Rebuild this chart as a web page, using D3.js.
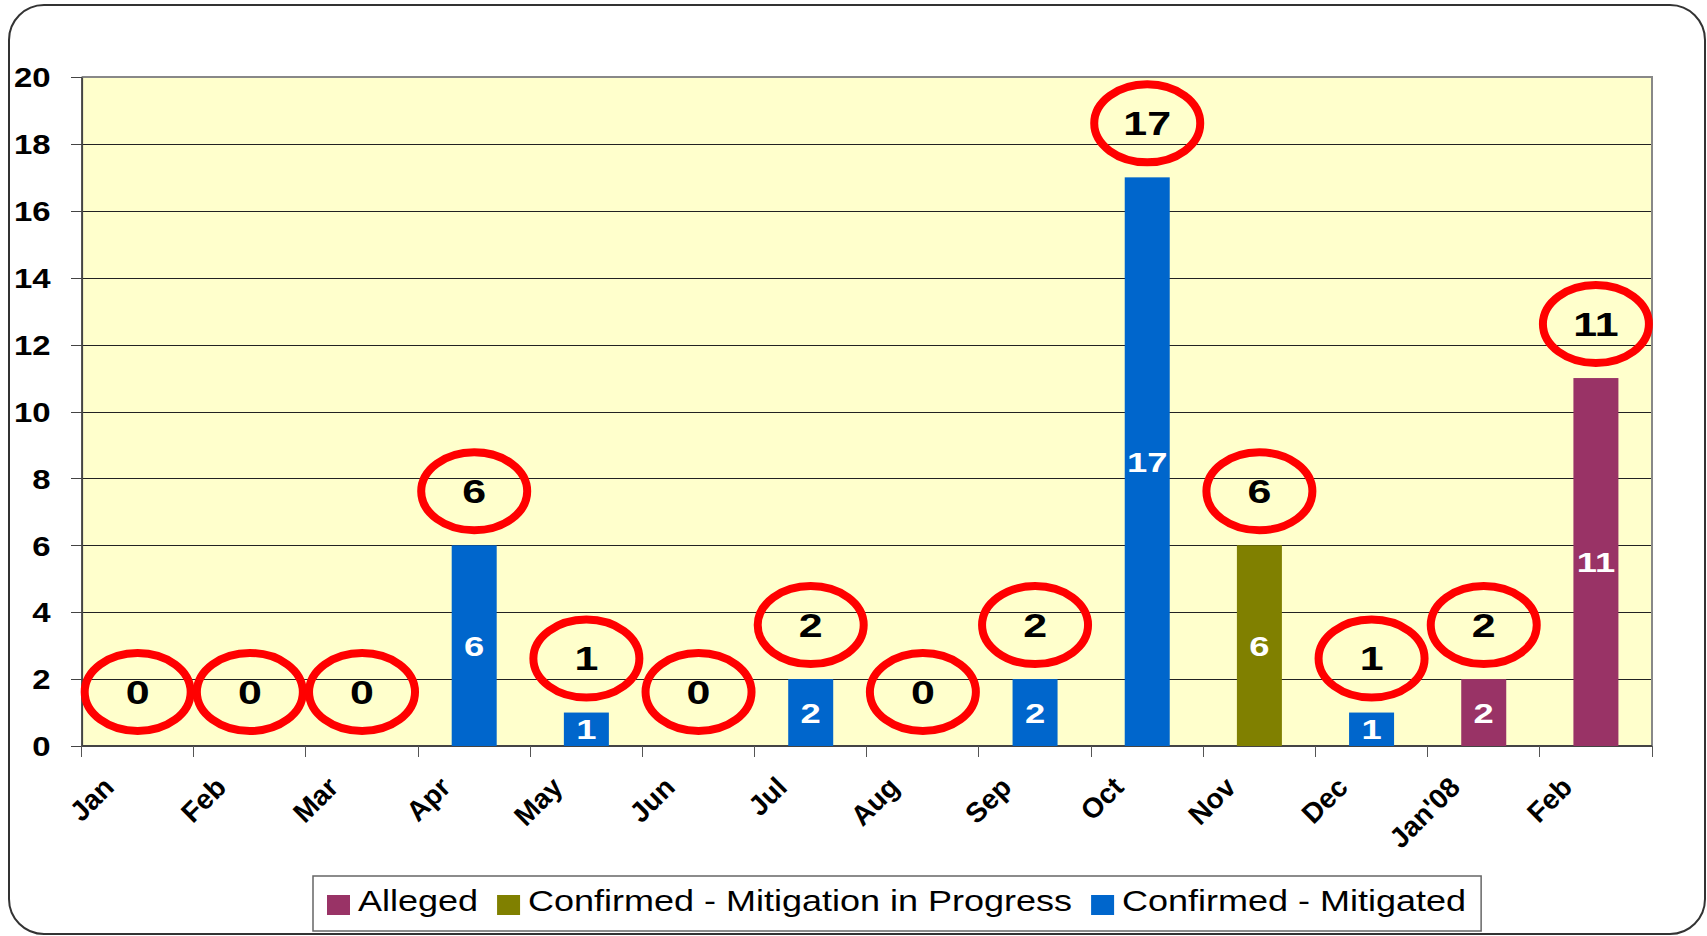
<!DOCTYPE html>
<html>
<head>
<meta charset="utf-8">
<script src="https://cdn.jsdelivr.net/npm/d3@7"></script>
<style>
  body { margin: 0; background: #fff; }
  svg text { font-family: "Liberation Sans", Arial, sans-serif; }
</style>
</head>
<body>
<div id="chart"></div>
<script>
// values
const months = ["Jan", "Feb", "Mar", "Apr", "May", "Jun", "Jul", "Aug", "Sep", "Oct", "Nov", "Dec", "Jan'08", "Feb"];
const alleged = [0, 0, 0, 0, 0, 0, 0, 0, 0, 0, 0, 0, 2, 11];
const inProgress = [0, 0, 0, 0, 0, 0, 0, 0, 0, 0, 6, 0, 0, 0];
const mitigated = [0, 0, 0, 6, 1, 0, 2, 0, 2, 17, 0, 1, 0, 0];
const seriesNames = ["Alleged", "Confirmed - Mitigation in Progress", "Confirmed - Mitigated"];
const yTicks = [0, 2, 4, 6, 8, 10, 12, 14, 16, 18, 20];

const keys = ["alleged", "inProgress", "mitigated"];
const colors = {alleged: "#993366", inProgress: "#808000", mitigated: "#0066CC"};

const W = 1707, H = 936;
const margin = {top: 77, right: 55, bottom: 190, left: 81.6};
const width = W - margin.left - margin.right;
const height = H - margin.top - margin.bottom;
const stretch = 1.3; // the text in the original is drawn wide

// "Feb" comes twice, so the band scale works on the index
const rows = months.map((m, i) => ({
  idx: i, month: m, alleged: alleged[i], inProgress: inProgress[i], mitigated: mitigated[i]
}));
const totals = rows.map(r => r.alleged + r.inProgress + r.mitigated);

const svg = d3.select("#chart")
  .append("svg")
  .attr("width", W)
  .attr("height", H);

// rounded frame round the whole chart
svg.append("rect")
  .attr("x", 9).attr("y", 5)
  .attr("width", W - 11).attr("height", H - 7)
  .attr("rx", 35).attr("ry", 35)
  .attr("fill", "#fff")
  .attr("stroke", "#333")
  .attr("stroke-width", 2);

const g = svg.append("g")
  .attr("transform", `translate(${margin.left},${margin.top})`);

const x = d3.scaleBand()
  .domain(d3.range(months.length))
  .range([0, width])
  .padding(0);

const y = d3.scaleLinear()
  .domain([0, 20])
  .range([height, 0]);

g.append("rect")
  .attr("width", width)
  .attr("height", height)
  .attr("fill", "#FFFFCC");

// gridlines
g.append("g")
  .call(d3.axisLeft(y).tickValues(yTicks.slice(1)).tickSize(-width).tickFormat(""))
  .call(s => s.select(".domain").remove())
  .selectAll("line")
  .attr("stroke", "#222")
  .attr("shape-rendering", "crispEdges");

// plot border top/right
g.append("path")
  .attr("d", `M0,0H${width}V${height}`)
  .attr("fill", "none")
  .attr("stroke", "#888")
  .attr("stroke-width", 2);

// y axis
const yAxis = g.append("g")
  .call(d3.axisLeft(y).tickValues(yTicks).tickSize(11).tickSizeOuter(0));
yAxis.select(".domain").attr("stroke", "#444").attr("stroke-width", 2);
yAxis.selectAll(".tick line").attr("stroke", "#444").attr("shape-rendering", "crispEdges");
yAxis.selectAll(".tick text")
  .attr("x", null)
  .attr("dy", "0.36em")
  .attr("transform", `translate(-31,0) scale(1.22,1)`)
  .attr("fill", "#000")
  .style("font-size", "27px")
  .style("font-weight", "bold");

// x axis line and ticks at the category edges
g.append("line")
  .attr("x1", 0).attr("x2", width)
  .attr("y1", height).attr("y2", height)
  .attr("stroke", "#444").attr("stroke-width", 2);

const edges = rows.map(r => x(r.idx)).concat([width]);
g.selectAll(".xtick")
  .data(edges)
  .enter()
  .append("line")
  .attr("class", "xtick")
  .attr("x1", d => d).attr("x2", d => d)
  .attr("y1", height).attr("y2", height + 11)
  .attr("stroke", "#555")
  .attr("shape-rendering", "crispEdges");

g.selectAll(".xlabel")
  .data(rows)
  .enter()
  .append("text")
  .attr("class", "xlabel")
  .attr("transform", d => `translate(${x(d.idx) + x.bandwidth() / 2 - 22},${height + 43}) rotate(-45)`)
  .attr("text-anchor", "end")
  .style("font-size", "28px")
  .style("font-weight", "bold")
  .text(d => d.month);

// stacked bars
const stack = d3.stack().keys(keys)(rows);
const barW = 45;

const layers = g.selectAll(".layer")
  .data(stack)
  .enter()
  .append("g")
  .attr("class", "layer")
  .attr("fill", d => colors[d.key]);

layers.selectAll("rect")
  .data(d => d.filter(p => p[1] - p[0] > 0))
  .enter()
  .append("rect")
  .attr("x", d => x(d.data.idx) + x.bandwidth() / 2 - barW / 2)
  .attr("y", d => y(d[1]))
  .attr("width", barW)
  .attr("height", d => y(d[0]) - y(d[1]));

layers.selectAll("text")
  .data(d => d.filter(p => p[1] - p[0] > 0))
  .enter()
  .append("text")
  .attr("transform", d => `translate(${x(d.data.idx) + x.bandwidth() / 2},${(y(d[0]) + y(d[1])) / 2}) scale(${stretch},1)`)
  .attr("dy", "0.36em")
  .attr("text-anchor", "middle")
  .attr("fill", "#fff")
  .style("font-size", "28px")
  .style("font-weight", "bold")
  .text(d => d[1] - d[0]);

// red circled totals
const notes = g.selectAll(".note")
  .data(rows)
  .enter()
  .append("g")
  .attr("class", "note")
  .attr("transform", d => `translate(${x(d.idx) + x.bandwidth() / 2},${y(totals[d.idx]) - 54})`);

notes.append("ellipse")
  .attr("rx", 53)
  .attr("ry", 39)
  .attr("fill", "none")
  .attr("stroke", "#FF0000")
  .attr("stroke-width", 8);

notes.append("text")
  .attr("transform", `scale(${stretch},1)`)
  .attr("dy", "0.36em")
  .attr("text-anchor", "middle")
  .style("font-size", "33px")
  .style("font-weight", "bold")
  .text(d => totals[d.idx]);

// legend
const legend = svg.append("g").attr("transform", "translate(313,876)");
const legendBox = legend.append("rect")
  .attr("height", 55)
  .attr("fill", "#fff")
  .attr("stroke", "#666")
  .attr("stroke-width", 1.5);

let cursor = 14;
keys.forEach((k, i) => {
  legend.append("rect")
    .attr("x", cursor).attr("y", 19)
    .attr("width", 23).attr("height", 20)
    .attr("fill", colors[k]);
  cursor += 31;
  const t = legend.append("text")
    .attr("transform", `translate(${cursor},35) scale(1.2,1)`)
    .style("font-size", "30px")
    .text(seriesNames[i]);
  cursor += t.node().getComputedTextLength() * 1.2 + 19;
});
legendBox.attr("width", cursor - 4);
</script>
</body>
</html>
